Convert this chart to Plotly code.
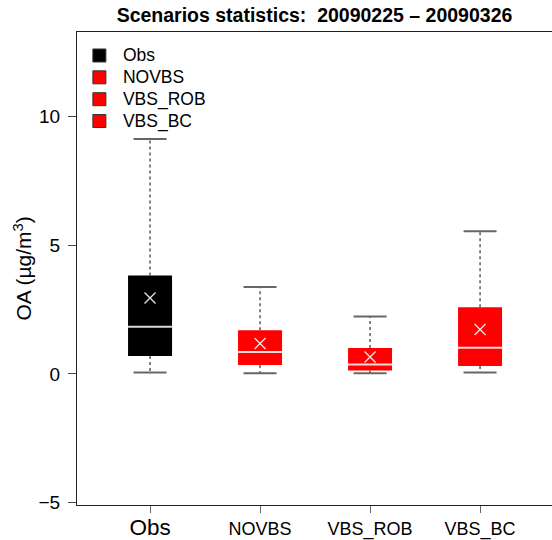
import plotly.graph_objects as go

# ---- data ----
categories = ["Obs", "NOVBS", "VBS_ROB", "VBS_BC"]
positions = [1, 2, 3, 4]
lower_whisker = [0.05, 0.03, 0.03, 0.05]
q1 = [0.70, 0.35, 0.13, 0.31]
median = [1.83, 0.85, 0.37, 1.02]
q3 = [3.83, 1.70, 1.01, 2.59]
upper_whisker = [9.14, 3.38, 2.23, 5.55]
mean = [2.95, 1.18, 0.66, 1.73]
colors = ["#000000", "#ff0000", "#ff0000", "#ff0000"]
y_ticks = [-5, 0, 5, 10]
title_text = "Scenarios statistics:\u00a0 20090225 \u2013 20090326"

FONT = "Liberation Sans, Arial, Helvetica, sans-serif"
BOX_W = 0.4
CAP_HALF = 0.15

fig = go.Figure()

# boxes
fig.add_trace(go.Bar(
    x=positions, base=q1, y=[b - a for a, b in zip(q1, q3)], width=BOX_W,
    marker=dict(color=colors, line=dict(width=0)), showlegend=False, hoverinfo="skip"))

# whiskers (dashed)
wx, wy = [], []
for p, lo, a, b, hi in zip(positions, lower_whisker, q1, q3, upper_whisker):
    wx += [p, p, None, p, p, None]
    wy += [b, hi, None, a, lo, None]
fig.add_trace(go.Scatter(x=wx, y=wy, mode="lines", showlegend=False, hoverinfo="skip",
                         line=dict(color="#333333", width=1.2, dash="3px,3px")))

# caps
cx, cy = [], []
for p, lo, hi in zip(positions, lower_whisker, upper_whisker):
    cx += [p - CAP_HALF, p + CAP_HALF, None, p - CAP_HALF, p + CAP_HALF, None]
    cy += [hi, hi, None, lo, lo, None]
fig.add_trace(go.Scatter(x=cx, y=cy, mode="lines", showlegend=False, hoverinfo="skip",
                         line=dict(color="#666666", width=2)))

# medians
mx, my = [], []
for p, m in zip(positions, median):
    mx += [p - BOX_W / 2, p + BOX_W / 2, None]
    my += [m, m, None]
fig.add_trace(go.Scatter(x=mx, y=my, mode="lines", showlegend=False, hoverinfo="skip",
                         line=dict(color="rgba(255,255,255,0.85)", width=2)))

# means
fig.add_trace(go.Scatter(x=positions, y=mean, mode="markers", showlegend=False, hoverinfo="skip",
                         marker=dict(symbol="x-thin-open", size=11, color="#e8e8e8",
                                     line=dict(color="#e8e8e8", width=1.3))))

# legend entries
for i, (name, col) in enumerate(zip(categories, colors)):
    fig.add_trace(go.Scatter(x=[None], y=[None], mode="markers",
                             name=f'<span style="font-size:17.5px">\u2009{name}</span>',
                             marker=dict(symbol="square", size=13, color=col,
                                         line=dict(color="#333333", width=1))))

tick_text = ['<span style="font-size:22.5px">Obs</span>'] + categories[1:]

fig.update_layout(
    width=552, height=540,
    margin=dict(l=77, r=0, t=32, b=32),
    paper_bgcolor="white", plot_bgcolor="white",
    font=dict(family=FONT, color="#000000"),
    title=dict(text=f"<b>{title_text}</b>", x=0.5, xref="paper", xanchor="center",
               y=1 - 15 / 540, yref="container", yanchor="middle",
               font=dict(size=19.5, family=FONT, color="#000000")),
    showlegend=True,
    legend=dict(x=0.005, y=0.984, xanchor="left", yanchor="top",
                font=dict(size=14.5, family=FONT), bgcolor="rgba(0,0,0,0)",
                itemclick=False),
    xaxis=dict(range=[0.336, 4.654], tickvals=positions, ticktext=tick_text,
               showline=True, linecolor="#222222", linewidth=1, mirror=True,
               ticks="outside", ticklen=7, tickcolor="#666666", tickwidth=1,
               showgrid=False, zeroline=False, tickfont=dict(size=18, family=FONT)),
    yaxis=dict(range=[-5.10, 13.30], tickvals=y_ticks, ticktext=["\u22125", "0", "5", "10"],
               showline=True, linecolor="#222222", linewidth=1,
               ticks="outside", ticklen=8, tickcolor="#444444", tickwidth=1,
               ticklabelstandoff=4,
               showgrid=False, zeroline=False, tickfont=dict(size=19, family=FONT)),
    annotations=[dict(text="OA (\u00b5g/m<sup>3</sup>)", textangle=-90, xref="paper", yref="paper",
                      x=(22 - 77) / 475, y=0.5, xanchor="center", yanchor="middle",
                      showarrow=False, font=dict(size=21, family=FONT, color="#000000"))],
)

fig.write_html("out.html")
